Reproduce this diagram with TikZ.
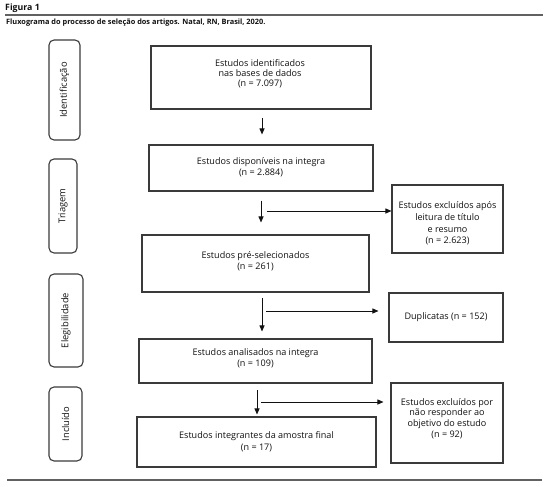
\documentclass[tikz,border=0pt]{standalone}
\usepackage{fontspec}
\setmainfont{Open Sans}
\usetikzlibrary{arrows.meta}
\definecolor{lc}{HTML}{3A3A3A}
\definecolor{tc}{HTML}{111111}
\tikzset{
  box/.style={draw=lc, line width=1.1bp, rectangle, inner sep=0pt},
  txt/.style={align=center, inner sep=0pt, text=tc, font=\fontsize{9.1}{10.8}\selectfont},
  stage/.style={draw=lc, line width=1.1bp, rectangle, rounded corners=5bp, inner sep=0pt, text=tc, font=\fontsize{9.4}{10.8}\selectfont},
  arr/.style={draw=tc, line width=0.9bp, -{Triangle[length=6bp,width=5bp]}},
  rule/.style={draw=lc!80, line width=1.4bp}
}
\begin{document}
\begin{tikzpicture}[x=1bp,y=-1bp]
\useasboundingbox (0,0) rectangle (550,487);
% header
\node[anchor=west, inner sep=0pt, text=tc, font=\fontsize{8.8}{10}\selectfont\bfseries] (fig) at (5,8) {Figura 1};
\coordinate (rl) at (5,15);
\coordinate (rr) at (543,15);
\draw[rule] (rl) -- (rr);
\node[anchor=west, inner sep=0pt, text=tc, font=\fontsize{7.4}{8}\selectfont\bfseries] (cap) at (6,23) {Fluxograma do processo de seleção dos artigos. Natal, RN, Brasil, 2020.};
\coordinate (bl) at (7,480);
\coordinate (br) at (542,480);
\draw[rule] (bl) -- (br);
% stages
\node[stage, minimum width=31bp, minimum height=100bp] (s1) at (64.5,90) {\rotatebox{90}{Identificação}};
\node[stage, minimum width=28bp, minimum height=94bp] (s2) at (63,206) {\rotatebox{90}{Triagem}};
\node[stage, minimum width=34bp, minimum height=93bp] (s3) at (66,320.5) {\rotatebox{90}{Elegibilidade}};
\node[stage, minimum width=33bp, minimum height=74bp] (s4) at (65.5,424) {\rotatebox{90}{Incluído}};
% main boxes
\node[box, minimum width=220bp, minimum height=63bp] (b1) at (261,77.5) {};
\node[txt] (t1) at (260,73.5) {Estudos identificados\\[-1bp]nas bases de dados\\[-1bp](n = 7.097)};
\node[box, minimum width=224bp, minimum height=46bp] (b2) at (261,168) {};
\node[txt] (t2) at (261,167.5) {Estudos disponíveis na integra\\(n = 2.884)};
\node[box, minimum width=227bp, minimum height=57bp] (b3) at (255.5,263.5) {};
\node[txt] (t3) at (255.5,261.5) {Estudos pré-selecionados\\(n = 261)};
\node[box, minimum width=233bp, minimum height=44bp] (b4) at (255.5,361) {};
\node[txt] (t4) at (255.5,358) {Estudos analisados na integra\\(n = 109)};
\node[box, minimum width=239bp, minimum height=50bp] (b5) at (256.5,442) {};
\node[txt] (t5) at (256.5,442) {Estudos integrantes da amostra final\\[1bp](n = 17)};
% exclusion boxes
\node[box, minimum width=111bp, minimum height=68bp] (e1) at (447.5,219) {};
\node[txt] (t6) at (447.5,223.5) {Estudos excluídos após\\[0.8bp]leitura de título\\[0.8bp]e resumo\\[0.8bp](n = 2.623)};
\node[box, minimum width=114bp, minimum height=49bp] (e2) at (446,317.5) {};
\node[txt] (t7) at (446,317) {Duplicatas (n = 152)};
\node[box, minimum width=112bp, minimum height=80bp] (e3) at (447,423) {};
\node[txt] (t8) at (447,418.5) {Estudos excluídos por\\não responder ao\\objetivo do estudo\\(n = 92)};
% arrows
\coordinate (v1) at (262,109);
\draw[arr, shorten <=9bp, shorten >=10bp] (v1) -- (v1 |- b2.north);
\draw[arr, shorten <=9bp, shorten >=12bp] (b2.south) -- (b2.south |- b3.north);
\coordinate (h1) at (267,211);
\draw[arr] (h1) -- (h1 -| e1.west);
\coordinate (v3) at (262,292);
\draw[arr, shorten <=6bp, shorten >=7bp] (v3) -- (v3 |- b4.north);
\coordinate (h2) at (266,311);
\draw[arr, shorten >=10bp] (h2) -- (h2 -| e2.west);
\coordinate (v4) at (257,383);
\draw[arr, shorten <=7bp, shorten >=2bp] (v4) -- (v4 |- b5.north);
\coordinate (h3) at (261,402);
\draw[arr, shorten >=7bp] (h3) -- (h3 -| e3.west);
\end{tikzpicture}
\end{document}
